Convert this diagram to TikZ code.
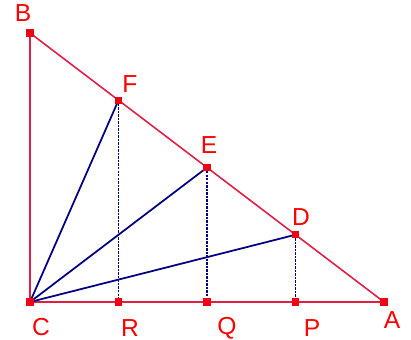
\documentclass[tikz,border=0pt]{standalone}
\usepackage{fontspec}
\setmainfont{Liberation Sans}
\usetikzlibrary{calc}
\definecolor{sideRed}{RGB}{225,30,70}
\definecolor{ptRed}{RGB}{240,0,20}
\definecolor{segBlue}{RGB}{0,0,128}
\tikzset{
  side/.style={sideRed, line width=0.9pt},
  ray/.style={segBlue, line width=1pt},
  drop/.style={segBlue, line width=1.1pt, dash pattern=on 1.4pt off 0.6pt},
  pt/.style={fill=ptRed, draw=none, minimum size=4pt, inner sep=0pt, rectangle},
  lbl/.style={text=red, font=\fontsize{14}{14}\selectfont, inner sep=0pt}
}
\begin{document}
\begin{tikzpicture}[x=0.02cm, y=-0.02cm, line join=round]
		% Bounding box matching the reference
		\useasboundingbox (0,0) rectangle (411,340);
		
		% Main corner points
		\coordinate (C) at (30,302);
		\coordinate (A) at (384,302);
		\coordinate (B) at (30,33);
		
		% Points on the hypotenuse and their feet on CA
		\coordinate (F) at ($(B)!0.25!(A)$);
		\coordinate (E) at ($(B)!0.5!(A)$);
		\coordinate (D) at ($(B)!0.75!(A)$);
		\coordinate (R) at (F |- C);
		\coordinate (Q) at (E |- C);
		\coordinate (P) at (D |- C);
		
		% Triangle sides
		\draw[side] (C) -- (A) -- (B) -- cycle;
		
		% Segments from C
		\draw[ray] (C) -- (F);
		\draw[ray] (C) -- (E);
		\draw[ray] (C) -- (D);
		
		% Perpendiculars to CA
		\draw[drop] (F) -- (R);
		\draw[drop] (E) -- (Q);
		\draw[drop] (D) -- (P);
		
		% Point markers
		\foreach \p in {A,B,C,D,E,F,P,Q,R}
			\node[pt] (m\p) at (\p) {};
		
		% Labels
		\node[lbl] (lB) at (23,13) {B};
		\node[lbl] (lF) at (130,84) {F};
		\node[lbl] (lE) at (209,145) {E};
		\node[lbl] (lD) at (301,217) {D};
		\node[lbl] (lC) at (41,327) {C};
		\node[lbl] (lR) at (130,328) {R};
		\node[lbl] (lQ) at (227,328) {Q};
		\node[lbl] (lP) at (312,328) {P};
		\node[lbl] (lA) at (392,320) {A};
	\end{tikzpicture}
\end{document}
